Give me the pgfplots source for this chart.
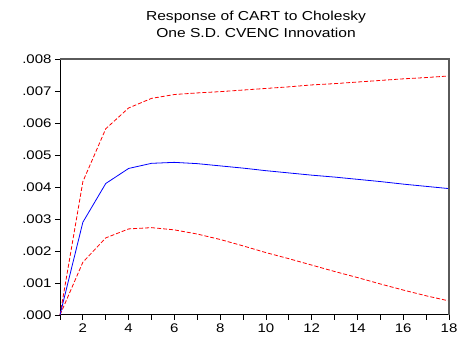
\documentclass[border=0pt]{standalone}
\usepackage{pgfplots}
\pgfplotsset{compat=1.18}
\usepackage{fontspec}
\setmainfont{Liberation Sans}[FakeStretch=1.2]
\definecolor{frameg}{RGB}{90,90,90}
\begin{document}
\begin{tikzpicture}
\path[use as bounding box] (-60pt,-24pt) rectangle (403pt,315pt);
\begin{axis}[
  at={(0pt,0pt)}, anchor=south west,
  scale only axis, width=389pt, height=256pt,
  xmin=1, xmax=18, ymin=0, ymax=0.008,
  axis x line=bottom, axis y line=left,
  axis line style={-, black, line width=1pt},
  xtick={1,2,3,4,5,6,7,8,9,10,11,12,13,14,15,16,17,18},
  xticklabels={,2,,4,,6,,8,,10,,12,,14,,16,,18},
  ytick={0,0.001,0.002,0.003,0.004,0.005,0.006,0.007,0.008},
  yticklabels={.000,.001,.002,.003,.004,.005,.006,.007,.008},
  scaled y ticks=false,
  tick align=outside,
  major tick length=5pt,
  tick style={black, line width=0.8pt},
  ticklabel style={font=\fontsize{12.5}{14}\selectfont},
  clip=false,
]
\addplot[red, line width=0.8pt, dash pattern=on 4pt off 2pt] coordinates {
(1,0) (2,0.00417) (3,0.00582) (4,0.00647) (5,0.00677) (6,0.00689) (7,0.00694) (8,0.00698) (9,0.00703) (10,0.00708) (11,0.00713) (12,0.00719) (13,0.00723) (14,0.00728) (15,0.00733) (16,0.00738) (17,0.00742) (18,0.00747)
};
\addplot[red, line width=0.8pt, dash pattern=on 4pt off 2pt] coordinates {
(1,0) (2,0.00165) (3,0.00241) (4,0.00269) (5,0.00273) (6,0.00266) (7,0.00253) (8,0.00236) (9,0.00216) (10,0.00195) (11,0.00176) (12,0.00156) (13,0.00136) (14,0.00117) (15,0.00097) (16,0.00078) (17,0.00060) (18,0.00044)
};
\addplot[blue, line width=0.8pt] coordinates {
(1,0) (2,0.00290) (3,0.00411) (4,0.00458) (5,0.00474) (6,0.00477) (7,0.00473) (8,0.00466) (9,0.00459) (10,0.00451) (11,0.00444) (12,0.00437) (13,0.00431) (14,0.00424) (15,0.00417) (16,0.00409) (17,0.00402) (18,0.00395)
};
\draw[frameg, line width=1.5pt] (rel axis cs:0,1) -- (rel axis cs:1,1) -- (rel axis cs:1,0);
\end{axis}
\node[anchor=base, font=\fontsize{13}{15}\selectfont] at (196pt,294.3pt) {Response of CART to Cholesky};
\node[anchor=base, font=\fontsize{13}{15}\selectfont] at (196pt,277.7pt) {One S.D. CVENC Innovation};
\end{tikzpicture}
\end{document}
